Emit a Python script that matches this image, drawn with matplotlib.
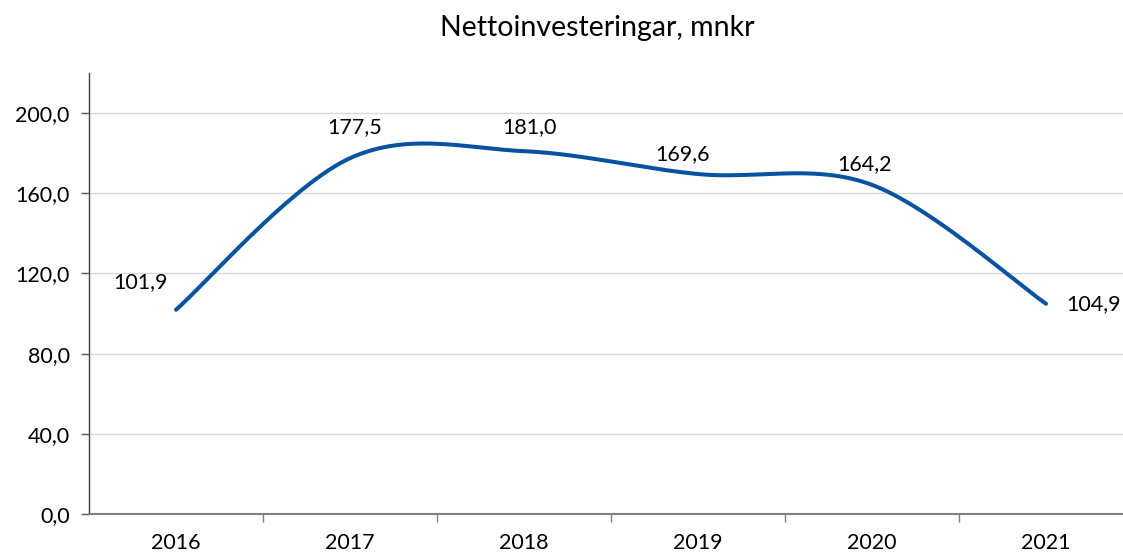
import numpy as np
import matplotlib.pyplot as plt

plt.rcParams['font.family'] = ['Lato', 'DejaVu Sans']

years = ['2016', '2017', '2018', '2019', '2020', '2021']
values = [101.9, 177.5, 181.0, 169.6, 164.2, 104.9]
labels = ['101,9', '177,5', '181,0', '169,6', '164,2', '104,9']
# label offsets in pixels (dx, dy)
offsets = [(-35, 28), (5, 31), (5, 24), (-15, 20), (-7, 21), (48, 0)]
yticks = [0, 40, 80, 120, 160, 200]


def smooth(xs, ys, n=60):
    """Excel-like smoothed line (Catmull-Rom via cubic Bezier)"""
    p = np.column_stack([xs, ys]).astype(float)
    p = np.vstack([p[0], p, p[-1]])
    out = []
    for i in range(1, len(p) - 2):
        p0, p1, p2, p3 = p[i - 1], p[i], p[i + 1], p[i + 2]
        c1 = p1 + (p2 - p0) / 6
        c2 = p2 - (p3 - p1) / 6
        t = np.linspace(0, 1, n)[:, None]
        seg = ((1 - t) ** 3) * p1 + 3 * ((1 - t) ** 2) * t * c1 \
            + 3 * (1 - t) * t ** 2 * c2 + t ** 3 * p2
        out.append(seg if i == 1 else seg[1:])
    s = np.vstack(out)
    return s[:, 0], s[:, 1]


fig = plt.figure(figsize=(11.23, 5.56), dpi=100)
ax = fig.add_axes([89 / 1123, 42 / 556, 1044 / 1123, 441 / 556])

x = np.arange(len(years))
sx, sy = smooth(x, values)
ax.plot(sx, sy, color='#0753a1', lw=2.9, solid_capstyle='round', zorder=3)

for xi, v, lab, (dx, dy) in zip(x, values, labels, offsets):
    ax.annotate(lab, (xi, v), xytext=(dx, dy), textcoords='offset pixels',
                ha='center', va='center', fontsize=15.5, color='black')

ax.set_xlim(-0.5, 5.5)
ax.set_ylim(0, 220)
ax.set_yticks(yticks)
ax.set_yticklabels([f'{t},0' for t in yticks], fontsize=15.5)
ax.set_xticks(x)
ax.set_xticklabels(years, fontsize=15.5)
ax.set_xticks(np.arange(0.5, 5.5, 1), minor=True)
ax.tick_params(axis='x', which='major', length=0, pad=14)
ax.tick_params(axis='x', which='minor', length=6, width=1, color='#7f7f7f')
ax.tick_params(axis='y', length=6, width=1, color='#595959', pad=8)

ax.grid(axis='y', color='#d9d9d9', lw=1)
ax.set_axisbelow(True)
for s in ['top', 'right']:
    ax.spines[s].set_visible(False)
ax.spines['left'].set_color('#404040')
ax.spines['left'].set_linewidth(1)
ax.spines['bottom'].set_color('#808080')
ax.spines['bottom'].set_linewidth(1.5)

fig.text(597 / 1123, 1 - 28 / 556, 'Nettoinvesteringar, mnkr', ha='center',
         va='center', fontsize=20.5)

fig.savefig('out.png', dpi=100)
